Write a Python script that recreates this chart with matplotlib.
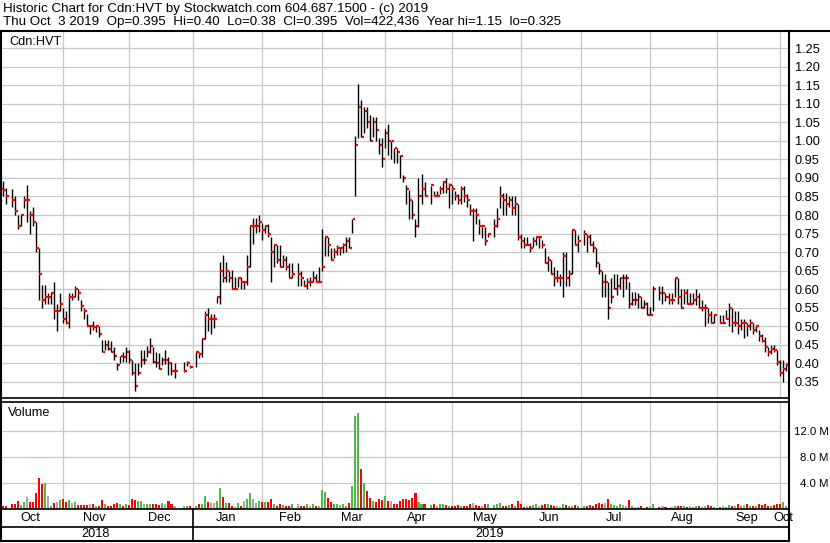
import numpy as np
import pandas as pd
import matplotlib
matplotlib.use('Agg')
import matplotlib.pyplot as plt
from matplotlib.lines import Line2D

plt.rcParams['font.family'] = ['Liberation Sans', 'DejaVu Sans']

nan = np.nan

# one slot per weekday; exchange holidays are left empty (nan)
dates = pd.bdate_range('2018-10-03', '2019-10-03')

highs = [
    0.90, 0.893, 0.873, nan, 0.871, 0.85, 0.80, 0.80, 0.85, 0.882, 0.812, 0.822, 0.78, 0.71, 0.612, 0.612,
    0.59, 0.59, 0.62, 0.56, 0.59, 0.55, 0.54, 0.59, 0.59, 0.61, 0.60, 0.57, 0.55, 0.533, 0.50, 0.513,
    0.50, 0.50, 0.463, 0.463, 0.463, 0.46, 0.443, 0.40, 0.42, 0.432, 0.443, 0.436, 0.41, 0.40, 0.40, 0.435,
    0.436, 0.448, 0.469, 0.445, 0.43, 0.427, 0.418, 0.436, 0.416, 0.404, 0.40, nan, nan, 0.405, 0.407, 0.396,
    nan, 0.432, 0.43, 0.467, 0.54, 0.55, 0.534, 0.534, 0.58, 0.673, 0.693, 0.673, 0.65, 0.652, 0.632, 0.632,
    0.632, 0.62, 0.693, 0.771, 0.792, 0.792, 0.80, 0.778, 0.774, 0.776, 0.74, 0.72, 0.72, 0.72, 0.693, 0.69,
    0.67, 0.67, nan, 0.67, 0.65, 0.625, 0.63, 0.634, 0.65, 0.64, 0.661, 0.762, 0.74, 0.74, 0.71, 0.71,
    0.72, 0.71, 0.724, 0.74, 0.742, 0.79, 1.012, 1.152, 1.11, 1.092, 1.09, 1.07, 1.064, 1.064, 1.008, 1.008,
    1.033, 1.044, 1.00, 0.98, 0.98, 0.962, 0.908, 0.88, 0.868, 0.84, 0.79, 0.90, 0.91, 0.89, nan, 0.879,
    0.865, 0.865, 0.879, 0.89, 0.90, 0.885, 0.88, 0.865, 0.858, 0.879, 0.879, 0.858, 0.83, 0.818, 0.818, 0.79,
    0.768, 0.768, 0.75, nan, 0.79, 0.82, 0.879, 0.86, 0.86, 0.85, 0.852, 0.852, 0.83, 0.75, 0.74, 0.74,
    0.724, 0.742, 0.74, 0.74, 0.733, 0.71, 0.69, 0.68, 0.66, 0.652, 0.64, 0.70, 0.70, 0.652, 0.76, 0.76,
    0.746, nan, 0.76, 0.75, 0.75, 0.73, 0.71, 0.67, 0.65, 0.64, 0.62, 0.63, 0.64, 0.64, 0.632, 0.64,
    0.64, 0.62, 0.593, 0.593, 0.59, 0.58, 0.57, 0.565, 0.552, 0.61, nan, 0.61, 0.61, 0.59, 0.59, 0.59,
    0.63, 0.63, 0.60, 0.60, 0.60, 0.59, 0.59, 0.60, 0.59, 0.57, 0.56, 0.55, 0.54, 0.53, nan, 0.53,
    0.53, 0.543, 0.562, 0.55, 0.54, 0.54, 0.52, 0.52, 0.51, 0.52, 0.51, 0.50, 0.49, 0.48, 0.47, 0.444,
    0.45, 0.45, 0.435, 0.408, 0.41, 0.40,
]

lows = [
    0.85, 0.85, 0.83, nan, 0.821, 0.80, 0.762, 0.77, 0.82, 0.78, 0.75, 0.77, 0.70, 0.57, 0.55, 0.56,
    0.56, 0.56, 0.52, 0.487, 0.54, 0.51, 0.505, 0.495, 0.57, 0.58, 0.57, 0.54, 0.52, 0.50, 0.48, 0.49,
    0.486, 0.47, 0.43, 0.436, 0.436, 0.43, 0.41, 0.381, 0.40, 0.405, 0.405, 0.40, 0.37, 0.327, 0.369, 0.39,
    0.398, 0.418, 0.427, 0.40, 0.39, 0.384, 0.396, 0.398, 0.37, 0.369, 0.362, nan, nan, 0.378, 0.392, 0.388,
    nan, 0.39, 0.415, 0.418, 0.465, 0.488, 0.48, 0.496, 0.562, 0.56, 0.62, 0.62, 0.62, 0.60, 0.60, 0.607,
    0.60, 0.60, 0.612, 0.66, 0.723, 0.751, 0.753, 0.733, 0.751, 0.74, 0.62, 0.66, 0.67, 0.661, 0.66, 0.652,
    0.632, 0.63, nan, 0.61, 0.61, 0.61, 0.60, 0.61, 0.62, 0.62, 0.62, 0.65, 0.69, 0.69, 0.68, 0.684,
    0.693, 0.693, 0.697, 0.70, 0.71, 0.751, 0.85, 1.008, 1.01, 1.02, 1.035, 1.00, 1.01, 1.00, 0.965, 0.93,
    0.98, 0.963, 0.95, 0.94, 0.94, 0.90, 0.89, 0.83, 0.79, 0.79, 0.74, 0.767, 0.83, 0.85, nan, 0.83,
    0.85, 0.85, 0.858, 0.86, 0.86, 0.82, 0.83, 0.84, 0.83, 0.83, 0.836, 0.822, 0.80, 0.73, 0.777, 0.75,
    0.739, 0.72, 0.74, nan, 0.74, 0.768, 0.82, 0.80, 0.80, 0.822, 0.80, 0.80, 0.732, 0.71, 0.71, 0.72,
    0.70, 0.715, 0.72, 0.71, 0.71, 0.67, 0.65, 0.64, 0.61, 0.62, 0.61, 0.58, 0.61, 0.61, 0.64, 0.72,
    0.70, nan, 0.72, 0.70, 0.72, 0.70, 0.66, 0.64, 0.58, 0.58, 0.52, 0.562, 0.60, 0.585, 0.60, 0.58,
    0.60, 0.55, 0.557, 0.557, 0.55, 0.55, 0.55, 0.53, 0.53, 0.54, nan, 0.57, 0.56, 0.567, 0.56, 0.56,
    0.58, 0.56, 0.55, 0.56, 0.56, 0.56, 0.56, 0.557, 0.55, 0.54, 0.50, 0.51, 0.51, 0.51, nan, 0.51,
    0.51, 0.52, 0.50, 0.485, 0.50, 0.478, 0.49, 0.468, 0.475, 0.49, 0.48, 0.485, 0.46, 0.457, 0.43, 0.42,
    0.426, 0.43, 0.395, 0.367, 0.35, 0.38,
]

closes = [
    0.87, 0.868, 0.85, nan, 0.84, 0.81, 0.77, 0.80, 0.84, 0.84, 0.80, 0.78, 0.71, 0.64, 0.57, 0.58,
    0.58, 0.59, 0.54, 0.54, 0.56, 0.52, 0.51, 0.58, 0.58, 0.60, 0.59, 0.556, 0.54, 0.50, 0.50, 0.497,
    0.50, 0.48, 0.432, 0.45, 0.44, 0.432, 0.42, 0.396, 0.42, 0.416, 0.432, 0.41, 0.375, 0.34, 0.375, 0.41,
    0.41, 0.43, 0.446, 0.404, 0.40, 0.386, 0.41, 0.41, 0.40, 0.38, 0.38, nan, nan, 0.38, 0.40, 0.39,
    nan, 0.43, 0.425, 0.467, 0.53, 0.52, 0.52, 0.52, 0.58, 0.65, 0.63, 0.65, 0.63, 0.60, 0.60, 0.63,
    0.62, 0.62, 0.66, 0.77, 0.77, 0.77, 0.78, 0.76, 0.77, 0.75, 0.70, 0.72, 0.68, 0.66, 0.68, 0.66,
    0.63, 0.64, nan, 0.64, 0.63, 0.61, 0.62, 0.62, 0.63, 0.62, 0.62, 0.66, 0.74, 0.72, 0.68, 0.70,
    0.71, 0.71, 0.72, 0.73, 0.71, 0.79, 0.99, 1.09, 1.01, 1.08, 1.05, 1.00, 1.05, 1.03, 0.99, 0.95,
    1.02, 1.00, 1.00, 0.98, 0.97, 0.96, 0.90, 0.87, 0.84, 0.80, 0.77, 0.85, 0.87, 0.85, nan, 0.88,
    0.85, 0.85, 0.87, 0.89, 0.87, 0.88, 0.87, 0.85, 0.84, 0.87, 0.85, 0.84, 0.81, 0.81, 0.80, 0.77,
    0.77, 0.73, 0.75, nan, 0.77, 0.79, 0.85, 0.84, 0.83, 0.84, 0.82, 0.83, 0.74, 0.73, 0.72, 0.72,
    0.71, 0.73, 0.74, 0.74, 0.72, 0.67, 0.68, 0.64, 0.63, 0.63, 0.63, 0.69, 0.63, 0.64, 0.76, 0.72,
    0.73, nan, 0.75, 0.74, 0.72, 0.71, 0.67, 0.65, 0.62, 0.62, 0.55, 0.58, 0.60, 0.61, 0.63, 0.63,
    0.63, 0.56, 0.57, 0.57, 0.58, 0.55, 0.56, 0.53, 0.53, 0.60, nan, 0.59, 0.59, 0.58, 0.57, 0.57,
    0.63, 0.58, 0.55, 0.59, 0.56, 0.56, 0.57, 0.58, 0.55, 0.55, 0.55, 0.53, 0.51, 0.53, nan, 0.51,
    0.51, 0.52, 0.55, 0.51, 0.51, 0.50, 0.51, 0.51, 0.50, 0.51, 0.49, 0.50, 0.475, 0.46, 0.445, 0.43,
    0.44, 0.435, 0.405, 0.375, 0.385, 0.395,
]

# daily volume, millions of shares
volumes = [
    0.6, 0.5, 0.4, nan, 0.7, 0.8, 1.3, 0.6, 1.1, 1.8, 1.0, 1.0, 2.4, 4.7, 3.9, 4.0,
    2.0, 0.5, 0.9, 1.0, 1.4, 1.5, 1.0, 1.4, 0.9, 1.1, 0.6, 0.6, 0.6, 0.6, 0.8, 0.8,
    0.5, 0.4, 1.4, 0.7, 0.4, 0.5, 0.8, 0.9, 0.7, 0.5, 0.7, 0.6, 1.6, 1.4, 1.3, 1.3,
    0.7, 0.8, 0.7, 0.8, 0.7, 0.6, 0.9, 0.7, 1.2, 0.7, 0.4, nan, nan, 0.5, 0.4, 0.4,
    nan, 0.4, 0.7, 0.8, 2.0, 1.1, 0.9, 0.9, 1.2, 3.2, 1.9, 0.9, 0.9, 0.5, 0.3, 0.9,
    0.5, 1.2, 1.5, 2.5, 1.5, 0.9, 1.3, 1.0, 1.1, 1.0, 1.6, 0.8, 0.5, 0.7, 0.6, 0.5,
    0.5, 0.7, nan, 0.8, 0.5, 0.4, 0.7, 0.5, 0.8, 0.5, 0.5, 2.9, 2.6, 1.7, 1.0, 0.7,
    0.7, 0.6, 0.7, 0.5, 0.9, 3.6, 14.2, 14.7, 6.1, 4.0, 2.8, 1.7, 1.2, 1.1, 1.6, 1.4,
    2.0, 1.3, 1.2, 0.7, 0.8, 1.2, 1.5, 1.6, 1.4, 1.7, 2.4, 1.0, 0.7, 0.7, nan, 0.6,
    0.7, 0.5, 0.8, 0.7, 0.6, 0.5, 0.5, 0.4, 0.6, 0.5, 0.4, 0.5, 0.7, 0.9, 0.6, 0.4,
    0.5, 0.7, 0.8, nan, 0.6, 0.7, 0.9, 0.5, 0.4, 0.6, 0.7, 0.4, 1.2, 0.7, 0.3, 0.5,
    0.4, 0.6, 0.8, 0.4, 0.6, 0.8, 0.7, 0.6, 0.4, 0.5, 0.3, 0.8, 0.6, 0.4, 0.5, 0.6,
    0.5, nan, 0.4, 0.5, 0.6, 0.5, 0.7, 0.9, 0.8, 0.9, 1.5, 0.8, 0.6, 0.5, 0.7, 0.6,
    0.5, 1.4, 0.4, 0.3, 0.3, 0.4, 0.2, 0.3, 0.4, 0.8, nan, 0.3, 0.4, 0.3, 0.2, 0.3,
    0.5, 0.4, 0.4, 0.5, 0.3, 0.4, 0.3, 0.4, 0.4, 0.3, 0.5, 0.6, 0.4, 0.3, nan, 0.3,
    0.4, 0.3, 0.6, 0.5, 0.4, 0.7, 0.5, 0.6, 0.8, 0.4, 0.5, 0.4, 0.7, 0.6, 0.8, 0.5,
    0.4, 0.6, 0.8, 0.7, 1.0, 0.4,
]

price_ticks = [0.35, 0.40, 0.45, 0.50, 0.55, 0.60, 0.65, 0.70, 0.75, 0.80,
               0.85, 0.90, 0.95, 1.00, 1.05, 1.10, 1.15, 1.20, 1.25]
vol_ticks = [4, 8, 12]

header1 = 'Historic Chart for Cdn:HVT by Stockwatch.com 604.687.1500 - (c) 2019'
header2 = 'Thu Oct  3 2019  Op=0.395  Hi=0.40  Lo=0.38  Cl=0.395  Vol=422,436  Year hi=1.15  lo=0.325'

highs = np.array(highs)
lows = np.array(lows)
closes = np.array(closes)
volumes = np.array(volumes)
x = np.arange(len(dates))

# volume colours: up green, down red, unchanged grey
prev = pd.Series(closes).ffill().shift(1).to_numpy()
vcol = np.where(closes > prev, '#4cbb4c', np.where(closes < prev, '#ff0000', '#a8a8a8'))

W, H = 830, 543
def box(l, t, r, b):
    return [l / W, 1 - b / H, (r - l) / W, (b - t) / H]

fig = plt.figure(figsize=(W / 100, H / 100), dpi=100)
ax = fig.add_axes(box(1, 31, 789, 398))
axv = fig.add_axes(box(1, 402, 789, 509))

month_first = pd.Series(x, index=dates).groupby([dates.year, dates.month]).first()
month_mid = pd.Series(x, index=dates).groupby([dates.year, dates.month]).mean()
month_names = [pd.Timestamp(y, m, 1).strftime('%b') for y, m in month_mid.index]
grid_x = month_first.values[1:]

gcol = '#c8c8c8'
fs = 9.2
for a in (ax, axv):
    for s in a.spines.values():
        s.set_visible(False)
    a.set_xlim(0.4, 262.0)
    for gx in grid_x:
        a.axvline(gx, color=gcol, lw=0.9, zorder=0)

# price panel
ax.vlines(x, lows, highs, color='black', lw=1.0, zorder=2)
ax.hlines(closes, x + 0.1, x + 1.0, color='red', lw=1.6, zorder=3)
ax.set_ylim(0.3068, 1.296)
ax.set_yticks(price_ticks)
ax.set_yticklabels(['%.2f' % t for t in price_ticks])
ax.yaxis.tick_right()
ax.tick_params(axis='y', length=0, pad=4, labelsize=fs)
ax.set_xticks([])
ax.grid(axis='y', color=gcol, lw=0.9, zorder=0)

# volume panel
axv.bar(x, volumes, width=0.68, color=vcol, zorder=2)
axv.set_ylim(0, 16.4)
axv.set_yticks(vol_ticks)
axv.set_yticklabels(['%.1f M' % v for v in vol_ticks])
axv.yaxis.tick_right()
axv.tick_params(axis='y', length=0, pad=28.3, labelsize=8.2)
for lbl in axv.get_yticklabels():
    lbl.set_horizontalalignment('right')
axv.set_xticks(month_mid.values)
axv.set_xticklabels(month_names)
axv.tick_params(axis='x', length=0, pad=2.5, labelsize=fs)
axv.grid(axis='y', color=gcol, lw=0.9, zorder=0)

# frame lines in pixel coordinates
def line(x0, y0, x1, y1, lw=1.5):
    fig.add_artist(Line2D([x0 / W, x1 / W], [1 - y0 / H, 1 - y1 / H],
                          color='black', lw=lw, transform=fig.transFigure))

line(0, 31, W, 31)
line(1, 31, 1, 541)
line(789, 31, 789, 541)
line(0, 398, 789, 398, 1.2)
line(0, 402, 789, 402, 1.2)
line(0, 509, 789, 509, 1.2)
line(0, 527, 789, 527, 1.2)
line(0, 541, 789, 541, 1.5)
jan_x = 1 + (grid_x[2] - 0.4) * 788 / 261.6
line(jan_x, 509, jan_x, 541, 1.2)

fig.text(3 / W, 1 - 9 / H, header1, fontsize=9.6, va='center')
fig.text(3 / W, 1 - 22 / H, header2, fontsize=9.6, va='center')
fig.text(9 / W, 1 - 42 / H, 'Cdn:HVT', fontsize=fs, va='center')
fig.text(8 / W, 1 - 413 / H, 'Volume', fontsize=fs, va='center')
fig.text(96 / W, 1 - 534 / H, '2018', fontsize=fs, va='center', ha='center')
fig.text(490 / W, 1 - 534 / H, '2019', fontsize=fs, va='center', ha='center')

fig.savefig('out.png', dpi=100)
